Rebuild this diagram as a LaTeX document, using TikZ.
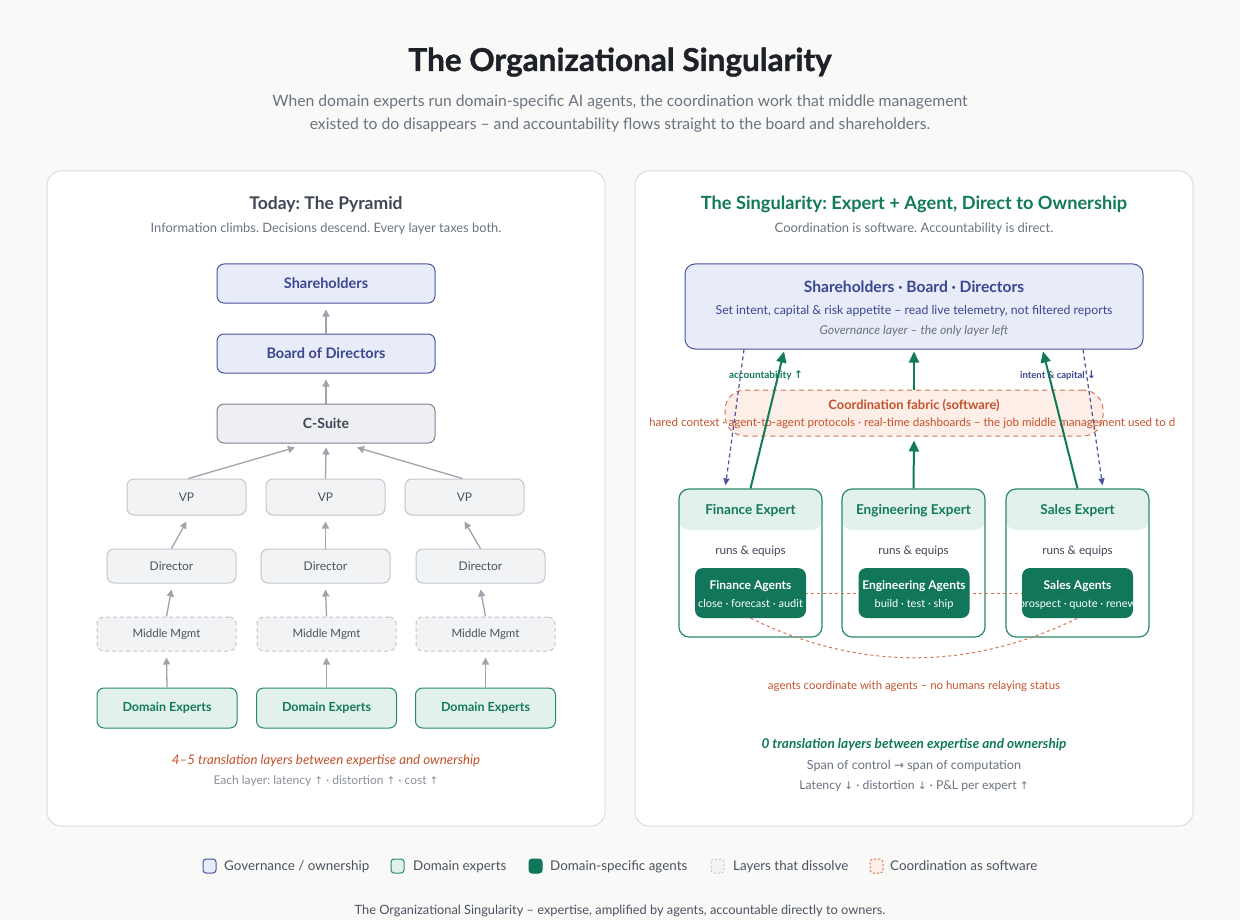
\documentclass[tikz,border=0pt]{standalone}
\usepackage{fontspec}
\setmainfont{Lato}
\newfontfamily\titlef{Lato}[FakeBold=1.2]
\newfontfamily\symf{DejaVu Sans}
\usetikzlibrary{arrows.meta,calc}
\definecolor{bgc}{HTML}{F9F9F7}
\definecolor{panelb}{HTML}{DCDCDC}
\definecolor{govb}{HTML}{4A549E}
\definecolor{govf}{HTML}{E8EBF8}
\definecolor{govt}{HTML}{3B4690}
\definecolor{exb}{HTML}{7C8290}
\definecolor{exf}{HTML}{EDEFF3}
\definecolor{ext}{HTML}{3F4654}
\definecolor{lgb}{HTML}{C2C6CD}
\definecolor{lgf}{HTML}{F2F3F5}
\definecolor{gtxt}{HTML}{4B5261}
\definecolor{mtxt}{HTML}{6B7280}
\definecolor{ltxt}{HTML}{8B909A}
\definecolor{arrg}{HTML}{9EA3AC}
\definecolor{grb}{HTML}{2A8A68}
\definecolor{grf}{HTML}{E2F2EB}
\definecolor{grt}{HTML}{117A56}
\definecolor{agf}{HTML}{11765A}
\definecolor{orb}{HTML}{D27452}
\definecolor{orf}{HTML}{FDEEE7}
\definecolor{ort}{HTML}{C4522C}
\definecolor{ttl}{HTML}{1F2128}
\newcommand{\fs}[1]{\fontsize{#1}{#1}\selectfont}
\newcommand{\arrU}{{\symf\fontsize{10.5}{10}\selectfont ↑}}
\newcommand{\arrD}{{\symf\fontsize{10.5}{10}\selectfont ↓}}
\newcommand{\arrR}{{\symf\fontsize{12}{10}\selectfont →}}
\frenchspacing
\begin{document}
\begin{tikzpicture}[x=1pt,y=-1pt,
  pbox/.style={draw, rounded corners=7pt, line width=1pt, inner sep=0pt, align=center},
  govbox/.style={pbox, draw=govb, fill=govf, text=govt, font=\bfseries\fs{14.5}, minimum width=218pt, minimum height=39pt},
  exbox/.style={pbox, draw=exb, fill=exf, text=ext, font=\bfseries\fs{14}, minimum width=218pt, minimum height=39pt},
  mgr/.style={pbox, draw=lgb, fill=lgf, text=gtxt, font=\fs{12}},
  midbox/.style={mgr, font=\fs{11.5}, dash pattern=on 4pt off 3pt, minimum width=139pt, minimum height=34pt},
  dombox/.style={pbox, draw=grb, fill=grf, text=grt, font=\bfseries\fs{12.5}, minimum width=140pt, minimum height=40pt},
  arr/.style={-{Triangle[length=7pt,width=7pt]}, draw=arrg, line width=1.3pt},
  garr/.style={-{Triangle[length=11pt,width=10pt]}, draw=grt, line width=2pt},
  darr/.style={-{Triangle[length=7pt,width=6pt]}, draw=govb, line width=1.2pt, dash pattern=on 4pt off 3pt},
  expbox/.style={draw=grb, line width=1.2pt, rounded corners=10pt, fill=white, minimum width=143pt, minimum height=148pt, inner sep=0pt,
     path picture={\fill[grf] (path picture bounding box.north west) rectangle ([yshift=-41pt]path picture bounding box.north east);}},
  agbox/.style={fill=agf, rounded corners=8pt, minimum width=111pt, minimum height=50pt, inner sep=0pt},
  txt/.style={inner sep=0pt, anchor=base},
  panel/.style={draw=panelb, fill=white, line width=1pt, rounded corners=14pt},
  sw/.style={draw, rounded corners=3pt, minimum width=13pt, minimum height=14pt, inner sep=0pt, line width=1pt},
  lg/.style={inner sep=0pt, anchor=base west, text=gtxt, font=\fs{13.4}}
]
\fill[bgc] (0,0) rectangle (1240,920);
\useasboundingbox (0,0) rectangle (1240,920);

% Title
\node[txt, text=ttl, font=\titlef\bfseries\fs{31.5}] (title) at (620,71) {The Organizational Singularity};
\node[txt, text=mtxt, font=\fs{15.7}] (sub1) at (620,107) {When domain experts run domain-specific AI agents, the coordination work that middle management};
\node[txt, text=mtxt, font=\fs{15.7}] (sub2) at (620,130) {existed to do disappears -- and accountability flows straight to the board and shareholders.};

% Panels
\draw[panel] (47,171) rectangle (605,826);
\draw[panel] (635,171) rectangle (1193,826);

% ---------- Left panel ----------
\node[txt, text=ext, font=\bfseries\fs{17.5}] (lt) at (326,210) {Today: The Pyramid};
\node[txt, text=mtxt, font=\fs{12.9}] (ls) at (326,233) {Information climbs. Decisions descend. Every layer taxes both.};

\node[govbox] (sh) at (326,283.5) {Shareholders};
\node[govbox] (bd) at (326,353.5) {Board of Directors};
\node[exbox] (cs) at (326,423.5) {C-Suite};

\node[mgr, minimum width=119pt, minimum height=36pt] (vp1) at (186.5,497) {VP};
\node[mgr, minimum width=119pt, minimum height=36pt] (vp2) at (325.5,497) {VP};
\node[mgr, minimum width=119pt, minimum height=36pt] (vp3) at (464.5,497) {VP};

\node[mgr, minimum width=129pt, minimum height=34pt] (dr1) at (171.5,566) {Director};
\node[mgr, minimum width=129pt, minimum height=34pt] (dr2) at (325.5,566) {Director};
\node[mgr, minimum width=129pt, minimum height=34pt] (dr3) at (480.5,566) {Director};

\node[midbox] (mm1) at (166.5,634) {Middle Mgmt};
\node[midbox] (mm2) at (326.5,634) {Middle Mgmt};
\node[midbox] (mm3) at (485.5,634) {Middle Mgmt};

\node[dombox] (de1) at (167,708) {Domain Experts};
\node[dombox] (de2) at (326.5,708) {Domain Experts};
\node[dombox] (de3) at (485.5,708) {Domain Experts};

\draw[arr] (bd.north) -- ([yshift=-6pt]sh.south);
\draw[arr] (cs.north) -- ([yshift=-6pt]bd.south);
\draw[arr] ([xshift=2pt]vp1.north) -- ([xshift=-31pt,yshift=-4pt]cs.south);
\draw[arr] (vp2.north) -- ([yshift=-4pt]cs.south);
\draw[arr] ([xshift=-2pt]vp3.north) -- ([xshift=31pt,yshift=-4pt]cs.south);
\foreach \i in {1,2,3}{
  \draw[arr] (dr\i.north) -- ([yshift=-6pt]vp\i.south);
  \draw[arr] (mm\i.north) -- ([yshift=-6pt]dr\i.south);
  \draw[arr] (de\i.north) -- ([yshift=-6pt]mm\i.south);
}

\node[txt, text=ort, font=\itshape\fs{13.3}] (ln1) at (326,764) {4--5 translation layers between expertise and ownership};
\node[txt, text=ltxt, font=\fs{12}] (ln2) at (326,784) {Each layer: latency \arrU{} · distortion \arrU{} · cost \arrU};

% ---------- Right panel ----------
\node[txt, text=grt, font=\bfseries\fs{18.2}] (rt) at (914,210) {The Singularity: Expert + Agent, Direct to Ownership};
\node[txt, text=mtxt, font=\fs{13}] (rs) at (914,233) {Coordination is software. Accountability is direct.};

\node[pbox, draw=govb, fill=govf, minimum width=458pt, minimum height=85pt, rounded corners=10pt] (gov) at (914,306.5) {};
\node[txt, text=govt, font=\bfseries\fs{15.6}] (g1) at (914,292) {Shareholders · Board · Directors};
\node[txt, text=govt, font=\fs{12.3}] (g2) at (914,314) {Set intent, capital \& risk appetite -- read live telemetry, not filtered reports};
\node[txt, text=mtxt, font=\itshape\fs{12.2}] (g3) at (914,334) {Governance layer -- the only layer left};

\node[draw=orb, fill=orf, line width=1pt, dash pattern=on 5pt off 4pt, rounded corners=20pt, minimum width=378pt, minimum height=46pt, inner sep=0pt] (fab) at (914,413) {};
\node[txt, text=ort, font=\bfseries\fs{12.9}] (f1) at (914,409) {Coordination fabric (software)};
\begin{scope}
\clip (650,400) rectangle (1174,440);
\node[txt, text=ort, font=\fs{11.6}] (f2) at (913,426) {shared context · agent-to-agent protocols · real-time dashboards -- the job middle management used to do};
\end{scope}

\node[txt, text=grt, font=\bfseries\fs{10}] (acc) at (766,378) {accountability \arrU};
\node[txt, text=govt, font=\bfseries\fs{9.5}] (int) at (1058,378) {intent \& capital \arrD};

% expert boxes
\node[expbox] (fin) at (750.5,563) {};
\node[expbox] (eng) at (913.5,563) {};
\node[expbox] (sal) at (1077.5,563) {};
\node[txt, text=grt, font=\bfseries\fs{13.6}] (fint) at (750.5,514) {Finance Expert};
\node[txt, text=grt, font=\bfseries\fs{13.6}] (engt) at (913.5,514) {Engineering Expert};
\node[txt, text=grt, font=\bfseries\fs{13.6}] (salt) at (1077.5,514) {Sales Expert};
\node[txt, text=ext, font=\fs{11.7}] (finr) at (750.5,554) {runs \& equips};
\node[txt, text=ext, font=\fs{11.7}] (engr) at (913.5,554) {runs \& equips};
\node[txt, text=ext, font=\fs{11.7}] (salr) at (1077.5,554) {runs \& equips};

% coordination lines between agents
\draw[draw=orb, line width=1pt, dash pattern=on 3pt off 3pt] (750.5,593) -- (1077.5,593);

\node[agbox] (fag) at (750.5,593) {};
\node[agbox] (eag) at (914,593) {};
\node[agbox] (sag) at (1077.5,593) {};
\node[txt, text=white, font=\bfseries\fs{12}] (fa1) at (750.5,589) {Finance Agents};
\node[txt, text=white, font=\fs{11}] (fa2) at (750.5,607) {close · forecast · audit};
\node[txt, text=white, font=\bfseries\fs{12}] (ea1) at (914,589) {Engineering Agents};
\node[txt, text=white, font=\fs{11}] (ea2) at (914,607) {build · test · ship};
\node[txt, text=white, font=\bfseries\fs{12}] (sa1) at (1077.5,589) {Sales Agents};
\node[txt, text=white, font=\fs{11}] (sa2) at (1077.5,607) {prospect · quote · renew};

\draw[draw=orb, line width=1pt, dash pattern=on 3pt off 3pt] (fag.south) .. controls (859,671) and (969,671) .. (sag.south);
\node[txt, text=ort, font=\fs{11.4}] (coordt) at (914,689) {agents coordinate with agents -- no humans relaying status};

% arrows
\draw[garr] (fin.north) -- ([xshift=-130pt,yshift=-2pt]gov.south);
\draw[garr] (sal.north) -- ([xshift=129pt,yshift=-2pt]gov.south);
\draw[garr] (eng.north) -- ([yshift=-4pt]fab.south);
\draw[garr] (fab.north) -- ([yshift=-2pt]gov.south);
\draw[darr] ([xshift=-170pt]gov.south) -- ([xshift=-25pt,yshift=3pt]fin.north);
\draw[darr] ([xshift=169pt]gov.south) -- ([xshift=25pt,yshift=3pt]sal.north);

\node[txt, text=grt, font=\bfseries\itshape\fs{13.6}] (z1) at (914,748) {0 translation layers between expertise and ownership};
\node[txt, text=mtxt, font=\fs{12.6}] (z2) at (914,769) {Span of control \arrR{} span of computation};
\node[txt, text=mtxt, font=\fs{12.2}] (z3) at (914,789) {Latency \arrD{} · distortion \arrD{} · P\&L per expert \arrU};

% legend
\node[sw, draw=govb, fill=govf] (s1) at (209.5,866) {};
\node[lg] (l1) at (224,870.5) {Governance / ownership};
\node[sw, draw=grb, fill=grf] (s2) at (397.5,866) {};
\node[lg] (l2) at (413,870.5) {Domain experts};
\node[sw, draw=agf, fill=agf] (s3) at (535.5,866) {};
\node[lg] (l3) at (550,870.5) {Domain-specific agents};
\node[sw, draw=lgb, fill=lgf, dash pattern=on 2pt off 2pt] (s4) at (717.5,866) {};
\node[lg] (l4) at (733,870.5) {Layers that dissolve};
\node[sw, draw=orb, fill=orf, dash pattern=on 2pt off 2pt] (s5) at (876.5,866) {};
\node[lg] (l5) at (890,870.5) {Coordination as software};

\node[txt, text=gtxt, font=\fs{12.8}] (foot) at (620,914) {The Organizational Singularity -- expertise, amplified by agents, accountable directly to owners.};
\end{tikzpicture}
\end{document}
